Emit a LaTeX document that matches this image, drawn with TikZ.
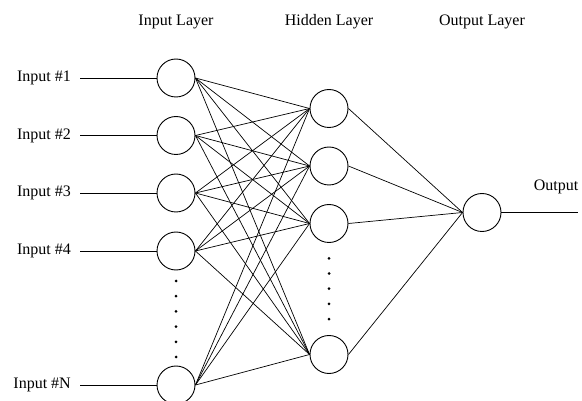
\documentclass[tikz,border=0pt]{standalone}
\usepackage{fontspec}
\setmainfont{Liberation Serif}
\usetikzlibrary{positioning}

\begin{document}
\begin{tikzpicture}[x=1pt, y=-1pt,
        every node/.style={font=\fontsize{16}{19}\selectfont},
        neuron/.style={draw, circle, line width=0.9pt, minimum size=38pt, inner sep=0pt},
        inlbl/.style={anchor=east, inner xsep=9pt},
        link/.style={line width=0.7pt}]
        \useasboundingbox (0,0) rectangle (582,401);

        % layer titles
        \node (tin) at (176,22) {Input Layer};
        \node (thid) at (329,22) {Hidden Layer};
        \node (tout) at (482,22) {Output Layer};

        % input layer
        \node[neuron] (in1) at (176,78) {};
        \node[neuron] (in2) at (176,135.5) {};
        \node[neuron] (in3) at (176,193) {};
        \node[neuron] (in4) at (176,251) {};
        \node[neuron] (inN) at (176,385) {};
        \foreach \k in {0,...,5}
            \fill (176,281+15.2*\k) circle (1.5pt);

        % hidden layer
        \node[neuron] (hid1) at (329,108.5) {};
        \node[neuron] (hid2) at (329,166) {};
        \node[neuron] (hid3) at (329,223.5) {};
        \node[neuron] (hidN) at (329,354.5) {};
        \foreach \k in {0,...,4}
            \fill (329,258.3+15.2*\k) circle (1.5pt);

        % output layer
        \node[neuron] (out) at (482,212.5) {};
        \node (outlbl) at (556,187) {Output};
        \coordinate (outend) at (578,212.5);

        % input labels
        \node[inlbl] (l1) at (80,78) {Input \#1};
        \node[inlbl] (l2) at (80,135.5) {Input \#2};
        \node[inlbl] (l3) at (80,193) {Input \#3};
        \node[inlbl] (l4) at (80,251) {Input \#4};
        \node[inlbl] (lN) at (80,385) {Input \#N};

        \foreach \i in {1,2,3,4,N}
            \draw[line width=0.9pt] (l\i.east) -- (in\i.west);
        \foreach \i in {1,2,3,4,N}
            \foreach \j in {1,2,3,N}
                \draw[link] (in\i.east) -- (hid\j.west);
        \foreach \j in {1,2,3,N}
            \draw[link] (hid\j.east) -- (out.west);
        \draw[line width=0.9pt] (out.east) -- (outend);
    \end{tikzpicture}
\end{document}
